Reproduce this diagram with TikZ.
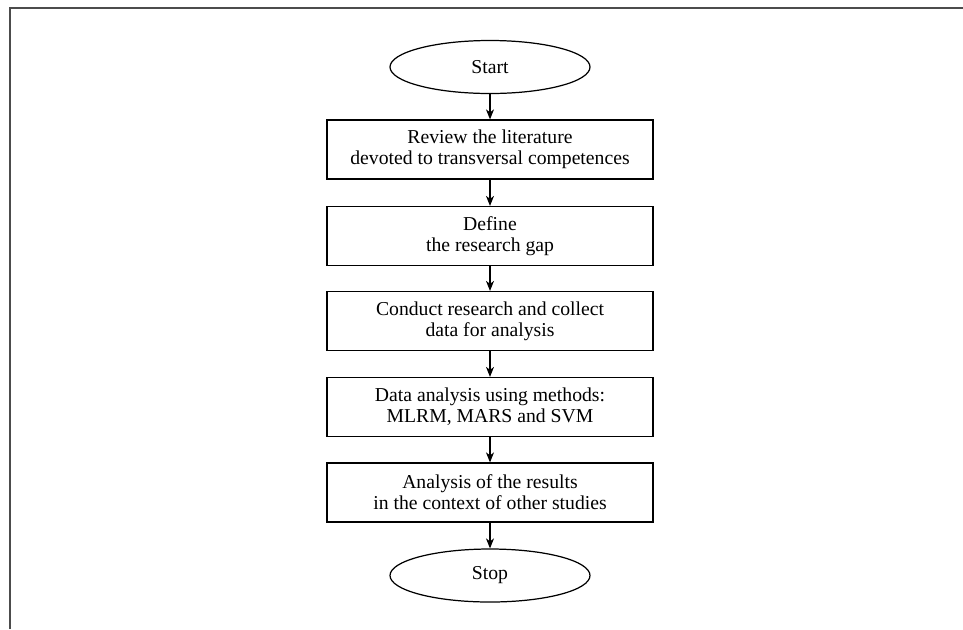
\documentclass[tikz,border=0pt]{standalone}
\usepackage{fontspec}
\setmainfont{Liberation Serif}
\usetikzlibrary{shapes.geometric, arrows.meta}
\begin{document}
\begin{tikzpicture}[>={Stealth[length=2mm, width=1.6mm, inset=0.6mm]}, font=\fontsize{11.2}{12}\selectfont,
    stepbox/.style={draw, rectangle, line width=0.7pt, minimum width=6.52cm, minimum height=1.18cm, align=center, inner sep=0pt},
    termbox/.style={draw, ellipse, line width=0.7pt, minimum width=4cm, minimum height=1.06cm, inner sep=0pt},
    flow/.style={->, line width=0.6pt}]
    \useasboundingbox (0, 0) rectangle (19.26, -12.58);
    % frame
    \draw[line width=0.9pt, black!70] (0.2, -12.58) -- (0.2, -0.16) -- (19.26, -0.16);

    % blocks
    \node[termbox] (start) at (9.8, -1.34) {Start};
    \node[stepbox] (review) at (9.8, -2.99) {Review the literature\\devoted to transversal competences};
    \node[stepbox] (gap) at (9.8, -4.72) {Define\\the research gap};
    \node[stepbox] (collect) at (9.8, -6.42) {Conduct research and collect\\data for analysis};
    \node[stepbox] (methods) at (9.8, -8.14) {Data analysis using methods:\\MLRM, MARS and SVM};
    \node[stepbox] (results) at (9.8, -9.85) {Analysis of the results\\in the context of other studies};
    \node[termbox] (stop) at (9.8, -11.51) {Stop};

    % arrows
    \draw[flow] (start) -- (review);
    \draw[flow] (review) -- (gap);
    \draw[flow] (gap) -- (collect);
    \draw[flow] (collect) -- (methods);
    \draw[flow] (methods) -- (results);
    \draw[flow] (results) -- (stop);
\end{tikzpicture}
\end{document}
